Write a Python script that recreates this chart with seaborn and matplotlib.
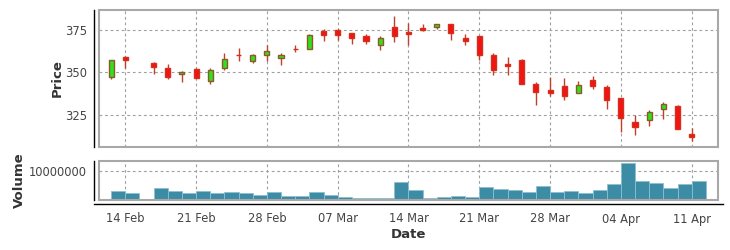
import numpy as np
import pandas as pd
import matplotlib
matplotlib.use("Agg")
import matplotlib.pyplot as plt
import matplotlib.ticker as mticker
from matplotlib.patches import Rectangle
import seaborn as sns

# ---------------- data ----------------
dates = ["2022-02-11", "2022-02-14", "2022-02-16", "2022-02-17", "2022-02-18",
         "2022-02-21", "2022-02-22", "2022-02-23", "2022-02-24", "2022-02-25",
         "2022-02-28", "2022-03-01", "2022-03-02", "2022-03-03", "2022-03-04",
         "2022-03-07", "2022-03-08", "2022-03-09", "2022-03-10", "2022-03-11",
         "2022-03-14", "2022-03-15", "2022-03-16", "2022-03-17", "2022-03-18",
         "2022-03-21", "2022-03-22", "2022-03-23", "2022-03-24", "2022-03-25",
         "2022-03-28", "2022-03-29", "2022-03-30", "2022-03-31", "2022-04-01",
         "2022-04-04", "2022-04-05", "2022-04-06", "2022-04-07", "2022-04-08",
         "2022-04-11"]
open_ = [347.4, 359.1, 355.2, 352.6, 348.7, 352.1, 344.8, 352.5, 359.9, 356.6,
         360.1, 358.5, 363.8, 363.8, 374.0, 374.6, 372.8, 371.1, 366.2, 376.4,
         373.4, 375.8, 376.8, 378.5, 370.3, 371.1, 359.9, 354.6, 357.0, 343.4,
         339.7, 342.1, 337.9, 345.6, 341.5, 335.0, 320.9, 322.1, 328.3, 330.3,
         314.0]
high = [357.2, 359.3, 355.8, 354.6, 350.5, 352.6, 352.6, 361.1, 364.4, 360.7,
        365.8, 361.1, 365.8, 372.6, 375.2, 375.2, 372.8, 372.6, 371.1, 382.8,
        378.9, 378.5, 378.5, 378.5, 372.6, 371.1, 361.5, 358.7, 357.5, 344.2,
        347.2, 346.4, 344.6, 348.1, 342.6, 335.0, 325.2, 328.1, 332.3, 330.9,
        317.4]
low = [346.0, 352.5, 349.1, 346.0, 344.2, 346.4, 343.2, 351.1, 356.6, 355.4,
       356.6, 354.4, 361.9, 363.8, 368.1, 368.7, 366.6, 366.6, 362.8, 367.7,
       366.0, 374.2, 375.2, 369.1, 366.0, 357.0, 348.5, 348.3, 343.2, 330.7,
       335.8, 333.6, 337.9, 340.1, 328.3, 314.8, 313.0, 318.3, 322.6, 316.6,
       309.5]
close = [357.0, 357.2, 353.0, 347.4, 349.9, 346.6, 351.5, 357.9, 359.9, 359.9,
         362.3, 359.9, 363.8, 372.1, 371.9, 371.9, 370.1, 368.5, 370.3, 371.3,
         372.3, 374.6, 378.5, 373.0, 368.3, 360.3, 351.3, 353.8, 343.2, 338.5,
         337.7, 336.2, 342.6, 341.9, 333.8, 323.2, 317.7, 326.6, 331.5, 317.0,
         311.9]
volume = [3.1e6, 2.4e6, 4.1e6, 3.2e6, 2.3e6, 3.2e6, 2.5e6, 2.65e6, 2.4e6, 1.8e6,
          2.75e6, 1.5e6, 1.25e6, 2.75e6, 1.7e6, 1.0e6, 0.6e6, 0.8e6, 0.7e6, 6.2e6,
          3.3e6, 0.8e6, 1.0e6, 1.3e6, 1.15e6, 4.5e6, 3.8e6, 3.3e6, 2.9e6, 4.9e6,
          2.75e6, 3.2e6, 2.3e6, 3.45e6, 5.6e6, 12.9e6, 6.4e6, 5.9e6, 4.0e6, 5.4e6,
          6.7e6]
tick_dates = ["2022-02-14", "2022-02-21", "2022-02-28", "2022-03-07", "2022-03-14",
              "2022-03-21", "2022-03-28", "2022-04-04", "2022-04-11"]
tick_labels = ["14 Feb", "21 Feb", "28 Feb", "07 Mar", "14 Mar",
               "21 Mar", "28 Mar", "04 Apr", "11 Apr"]
price_ticks = [325, 350, 375]
volume_ticks = [10000000]

# ---------------- styling ----------------
sns.set_style("white")
plt.rcParams['font.family'] = ['DejaVu Sans']

UP_FILL, UP_EDGE = "#33e01a", "#8a5a2a"
DN_FILL, DN_EDGE = "#f01414", "#d4301e"
WICK = "#c0402a"
VOL_COLOR, VOL_EDGE = "#3d8ca6", "#8cc0d2"
FRAME = "#a8a8a8"
GRID = "#a0a0a0"
TXT = "#333333"
TICKTXT = "#444444"

df = pd.DataFrame({"date": pd.to_datetime(dates), "open": open_, "high": high,
                   "low": low, "close": close, "volume": volume})
d0 = np.datetime64(dates[0], "D")
df["x"] = np.busday_count(d0, df["date"].values.astype("datetime64[D]"))
tick_x = np.busday_count(d0, np.array(tick_dates, dtype="datetime64[D]"))
df["up"] = df["close"] > df["open"]

W, H = 730, 250
fig = plt.figure(figsize=(W / 100, H / 100), dpi=100)
L, R = 99, 718
ax = fig.add_axes([L / W, 1 - 147 / H, (R - L) / W, (147 - 10) / H])
axv = fig.add_axes([L / W, 1 - 200 / H, (R - L) / W, (200 - 161) / H])

xlim = (-0.855, 42.86)

# ---------------- candles ----------------
ax.vlines(df["x"], df["low"], df["high"], color=WICK, lw=1.0, zorder=3)
bw = 0.36
for up, fill, edge in [(True, UP_FILL, UP_EDGE), (False, DN_FILL, DN_EDGE)]:
    sub = df[df["up"] == up]
    bottom = np.minimum(sub["open"], sub["close"])
    height = np.abs(sub["close"] - sub["open"])
    ax.bar(sub["x"], height, bottom=bottom, width=bw, color=fill,
           edgecolor=edge, linewidth=1.0, zorder=4)

ax.set_xlim(*xlim)
ax.set_ylim(306.2, 386.5)
ax.set_yticks(price_ticks)
ax.set_xticks(tick_x)
ax.set_xticklabels([])
ax.tick_params(axis="x", length=0)

# ---------------- volume ----------------
df["xv"] = df["x"] + 0.5
sns.barplot(data=df, x="xv", y="volume", native_scale=True, width=1.0,
            color=VOL_COLOR, saturation=1, edgecolor=VOL_EDGE, linewidth=0.6,
            errorbar=None, ax=axv, zorder=3)
axv.set_xlim(*xlim)
axv.set_ylim(0, 1.345e7)
axv.set_yticks(volume_ticks)
axv.yaxis.set_major_formatter(mticker.FuncFormatter(lambda v, p: f"{int(v)}"))
axv.set_xticks(tick_x)
axv.set_xticklabels(tick_labels)
axv.set_xlabel("")
axv.set_ylabel("")

for a in (ax, axv):
    for s in a.spines.values():
        s.set_visible(False)
    a.add_patch(Rectangle((0, 0), 1, 1, transform=a.transAxes, fill=False,
                          ec=FRAME, lw=1.5, clip_on=False, zorder=5))
    a.grid(True, color=GRID, linestyle=(0, (2.5, 2.5)), linewidth=0.8)
    a.set_axisbelow(True)
    a.spines["left"].set_visible(True)
    a.spines["left"].set_color("black")
    a.spines["left"].set_linewidth(1.0)
    a.spines["left"].set_position(("outward", 3.5))
    a.tick_params(axis="y", direction="out", length=3, width=1, color="black",
                  labelsize=8.3, labelcolor=TICKTXT, pad=2)

axv.spines["bottom"].set_visible(True)
axv.spines["bottom"].set_color("black")
axv.spines["bottom"].set_linewidth(1.0)
axv.spines["bottom"].set_position(("outward", 3))
axv.spines["bottom"].set_bounds(-1.21, 43.2)
axv.tick_params(axis="x", direction="out", length=3, width=1, color="black",
                labelsize=8.3, labelcolor=TICKTXT, pad=3)

fig.text(57 / W, 1 - 78 / H, "Price", rotation=90, ha="center", va="center",
         fontsize=9.5, fontweight="bold", color=TXT)
fig.text(19 / W, 1 - 180 / H, "Volume", rotation=90, ha="center", va="center",
         fontsize=9.5, fontweight="bold", color=TXT)
fig.text(408 / W, 1 - 235 / H, "Date", ha="center", va="center",
         fontsize=9.5, fontweight="bold", color=TXT)

fig.savefig("out.png", dpi=100)
